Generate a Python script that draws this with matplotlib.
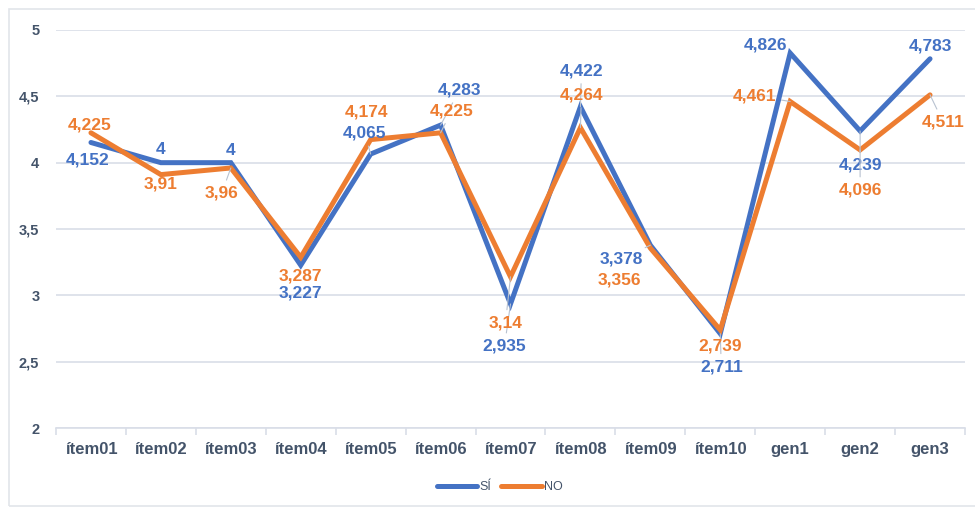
import matplotlib
matplotlib.use("Agg")
import matplotlib.pyplot as plt
from matplotlib.patches import Rectangle

plt.rcParams['font.family'] = ['Liberation Sans', 'DejaVu Sans']

categories = ['ítem01', 'ítem02', 'ítem03', 'ítem04', 'ítem05', 'ítem06', 'ítem07',
              'ítem08', 'ítem09', 'ítem10', 'gen1', 'gen2', 'gen3']
si_values = [4.152, 4.0, 4.0, 3.227, 4.065, 4.283, 2.935, 4.422, 3.378, 2.711, 4.826, 4.239, 4.783]
no_values = [4.225, 3.91, 3.96, 3.287, 4.174, 4.225, 3.14, 4.264, 3.356, 2.739, 4.461, 4.096, 4.511]
si_labels = ['4,152', '4', '4', '3,227', '4,065', '4,283', '2,935', '4,422', '3,378', '2,711', '4,826', '4,239', '4,783']
no_labels = ['4,225', '3,91', '3,96', '3,287', '4,174', '4,225', '3,14', '4,264', '3,356', '2,739', '4,461', '4,096', '4,511']
yticks = [2, 2.5, 3, 3.5, 4, 4.5, 5]
ytick_labels = ['2', '2,5', '3', '3,5', '4', '4,5', '5']

# label offsets in pixels (dx, dy), screen up = positive
si_off = [(-3, -17), (0, 13), (0, 12), (0, -28), (-6, 21), (19, 35), (-6, -42), (1, 36),
          (-29, -14), (1, -33), (-25, 8), (0, -34), (0, 13)]
no_off = [(-1, 8), (0, -9), (-9, -25), (0, -19), (-4, 28), (11, 22), (-5, -46), (1, 33),
          (-31, -32), (0, -16), (-36, 6), (0, -40), (13, -27)]
# which labels get a thin leader line back to the point
si_lead = [False, False, False, False, True, True, True, True, True, True, False, True, False]
no_lead = [False, False, True, False, False, True, True, True, False, False, True, True, True]

blue = '#4472C4'
orange = '#ED7D31'
txt = '#44546A'
grid = '#D9DEE8'
lead = '#B8C2D0'

fig = plt.figure(figsize=(9.75, 5.08), dpi=100)
ax = fig.add_axes([56 / 975, 80 / 508, 909 / 975, 398 / 508])

x = list(range(len(categories)))
ax.plot(x, si_values, color=blue, lw=3.6, solid_joinstyle='miter', solid_capstyle='round', label='SÍ', zorder=3)
ax.plot(x, no_values, color=orange, lw=3.6, solid_joinstyle='miter', solid_capstyle='round', label='NO', zorder=4)

for i in x:
    for vals, labs, offs, leads, col in [(si_values, si_labels, si_off, si_lead, blue),
                                         (no_values, no_labels, no_off, no_lead, orange)]:
        arrow = None
        if leads[i]:
            arrow = dict(arrowstyle='-', color=lead, lw=0.8, shrinkA=2, shrinkB=0)
        ax.annotate(labs[i], (i, vals[i]), xytext=offs[i], textcoords='offset pixels',
                    ha='center', va='center', color=col, fontsize=12.5, fontweight='bold',
                    arrowprops=arrow, zorder=5)

ax.set_xlim(-0.5, len(categories) - 0.5)
ax.set_ylim(2, 5)
ax.set_yticks(yticks)
ax.set_yticklabels(ytick_labels)
ax.set_xticks(x)
ax.set_xticklabels(categories)
ax.set_xticks([i - 0.5 for i in range(len(categories) + 1)], minor=True)
ax.tick_params(axis='x', which='major', length=0, pad=10, labelsize=12, labelcolor=txt)
ax.tick_params(axis='x', which='minor', length=5, width=1.2, color=grid)
ax.tick_params(axis='y', length=0, pad=12, labelsize=10.5, labelcolor=txt)
for lab in ax.get_xticklabels() + ax.get_yticklabels():
    lab.set_fontweight('bold')
ax.grid(axis='y', color=grid, lw=1.2)
ax.set_axisbelow(True)
for s in ['top', 'right', 'left']:
    ax.spines[s].set_visible(False)
ax.spines['bottom'].set_color(grid)
ax.spines['bottom'].set_linewidth(1.2)

leg = fig.legend(loc='center', bbox_to_anchor=(500 / 975, 21 / 508), ncol=2, frameon=False,
                 fontsize=9, handlelength=3.2, handletextpad=0.2, columnspacing=0.8)
for t in leg.get_texts():
    t.set_color(txt)

fig.patches.append(Rectangle((9 / 975, 2 / 508), 1.0, 497 / 508, transform=fig.transFigure,
                             fill=False, edgecolor='#E2E5EA', lw=1.2))

fig.savefig('out.png', dpi=100)
